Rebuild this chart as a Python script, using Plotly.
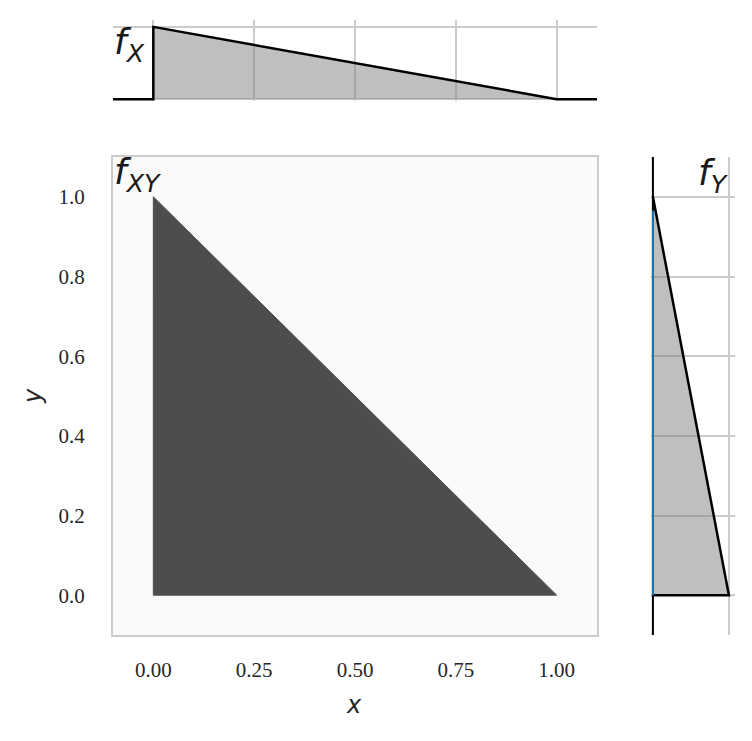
import plotly.graph_objects as go

W, H = 752, 741

# ---- data ----
# joint density support: triangle vertices (x, y)
tri_x = [0.0, 1.0, 0.0, 0.0]
tri_y = [0.0, 0.0, 1.0, 0.0]

# marginal f_X (x, density)
fx_x = [-0.1, 0.0, 0.0, 1.0, 1.1]
fx_v = [0.0, 0.0, 2.0, 0.0, 0.0]
fx_fill_x = [0.0, 0.0, 1.0]
fx_fill_v = [0.0, 2.0, 0.0]

# marginal f_Y (y, density)
fy_y = [0.0, 0.0, 1.0]
fy_v = [0.0, 2.0, 0.0]
fy_fill_y = [0.0, 0.0, 1.0]
fy_fill_v = [0.0, 2.0, 0.0]
fy_axis_y = [-0.1, 1.1]
fy_axis_v = [0.0, 0.0]
fy_blue_y = [0.0, 0.965]
fy_blue_v = [0.0, 0.0]

x_ticks = [0.0, 0.25, 0.5, 0.75, 1.0]
x_ticklabels = ["0.00", "0.25", "0.50", "0.75", "1.00"]
y_ticks = [0.0, 0.2, 0.4, 0.6, 0.8, 1.0]
y_ticklabels = ["0.0", "0.2", "0.4", "0.6", "0.8", "1.0"]
marg_grid = [0.0, 2.0]

def px(x):
    return x / W

def py(y):
    return 1 - y / H

fig = go.Figure()

# main joint density
fig.add_trace(go.Scatter(x=tri_x, y=tri_y, mode="lines", fill="toself",
                         fillcolor="#4d4d4d", line=dict(color="#4d4d4d", width=1),
                         xaxis="x", yaxis="y", hoverinfo="skip"))

# top marginal
fig.add_trace(go.Scatter(x=fx_fill_x, y=fx_fill_v, mode="lines", fill="toself",
                         fillcolor="rgba(128,128,128,0.5)", line=dict(width=0),
                         xaxis="x2", yaxis="y2", hoverinfo="skip"))
fig.add_trace(go.Scatter(x=fx_x, y=fx_v, mode="lines",
                         line=dict(color="black", width=2.5),
                         xaxis="x2", yaxis="y2", hoverinfo="skip"))

# right marginal
fig.add_trace(go.Scatter(x=fy_fill_v, y=fy_fill_y, mode="lines", fill="toself",
                         fillcolor="rgba(128,128,128,0.5)", line=dict(width=0),
                         xaxis="x3", yaxis="y3", hoverinfo="skip"))
fig.add_trace(go.Scatter(x=fy_axis_v, y=fy_axis_y, mode="lines",
                         line=dict(color="black", width=2),
                         xaxis="x3", yaxis="y3", hoverinfo="skip"))
fig.add_trace(go.Scatter(x=fy_v, y=fy_y, mode="lines",
                         line=dict(color="black", width=2.5),
                         xaxis="x3", yaxis="y3", hoverinfo="skip"))
fig.add_trace(go.Scatter(x=fy_blue_v, y=fy_blue_y, mode="lines",
                         line=dict(color="#1f77b4", width=2),
                         xaxis="x3", yaxis="y3", hoverinfo="skip"))

tick_font = dict(family="Liberation Serif, DejaVu Serif, serif", size=21, color="#262626")
grid_c = "#cccccc"

main_x_dom = [px(113), px(597)]
main_y_dom = [py(635), py(157)]

fig.update_layout(
    width=W, height=H,
    margin=dict(l=0, r=0, t=0, b=0),
    paper_bgcolor="white",
    plot_bgcolor="white",
    showlegend=False,
    xaxis=dict(domain=main_x_dom, range=[-0.1, 1.1], anchor="y",
               tickvals=x_ticks, ticktext=x_ticklabels, tickfont=tick_font,
               ticks="outside", ticklen=15, tickcolor="rgba(0,0,0,0)",
               showgrid=False, zeroline=False, showline=True, mirror=True,
               linecolor=grid_c, linewidth=2, automargin=False),
    yaxis=dict(domain=main_y_dom, range=[-0.1, 1.1], anchor="x",
               tickvals=y_ticks, ticktext=y_ticklabels, tickfont=tick_font,
               ticks="outside", ticklen=22, tickcolor="rgba(0,0,0,0)",
               showgrid=False, zeroline=False, showline=True, mirror=True,
               linecolor=grid_c, linewidth=2, automargin=False),
    xaxis2=dict(domain=main_x_dom, range=[-0.1, 1.1], anchor="y2",
                tickvals=x_ticks, showticklabels=False, showgrid=True,
                gridcolor=grid_c, gridwidth=1.5, zeroline=False, showline=False),
    yaxis2=dict(domain=[py(101), py(20)], range=[-0.05, 2.19], anchor="x2",
                tickvals=marg_grid, showticklabels=False, showgrid=True,
                gridcolor=grid_c, gridwidth=1.5, zeroline=False, showline=False),
    xaxis3=dict(domain=[px(651), px(735)], range=[-0.05, 2.16], anchor="y3",
                tickvals=marg_grid, showticklabels=False, showgrid=True,
                gridcolor=grid_c, gridwidth=1.5, zeroline=False, showline=False),
    yaxis3=dict(domain=main_y_dom, range=[-0.1, 1.1], anchor="x3",
                tickvals=y_ticks, showticklabels=False, showgrid=True,
                gridcolor=grid_c, gridwidth=1.5, zeroline=False, showline=False),
)

# main panel background
fig.add_shape(type="rect", xref="paper", yref="paper",
              x0=main_x_dom[0], x1=main_x_dom[1], y0=main_y_dom[0], y1=main_y_dom[1],
              fillcolor="#fafafa", line=dict(width=0), layer="below")

lab_font = dict(family="DejaVu Sans", size=36, color="#1a1a1a")
ann = [
    dict(text="<i>f</i><sub><i>X</i></sub>", x=px(112), y=py(44), xanchor="left", yanchor="middle"),
    dict(text="<i>f</i><sub><i>XY</i></sub>", x=px(112), y=py(174), xanchor="left", yanchor="middle"),
    dict(text="<i>f</i><sub><i>Y</i></sub>", x=px(731), y=py(175), xanchor="right", yanchor="middle"),
]
for a in ann:
    fig.add_annotation(xref="paper", yref="paper", showarrow=False, font=lab_font, **a)

ax_font = dict(family="DejaVu Sans", size=24, color="#262626")
fig.add_annotation(xref="paper", yref="paper", x=px(354), y=py(705), text="<i>x</i>",
                   showarrow=False, font=ax_font, xanchor="center", yanchor="middle")
fig.add_annotation(xref="paper", yref="paper", x=px(33), y=py(396), text="<i>y</i>",
                   showarrow=False, font=ax_font, xanchor="center", yanchor="middle",
                   textangle=-90)

fig.write_html("out.html", config={"displayModeBar": False},
               post_script="document.body.style.margin='0';")
